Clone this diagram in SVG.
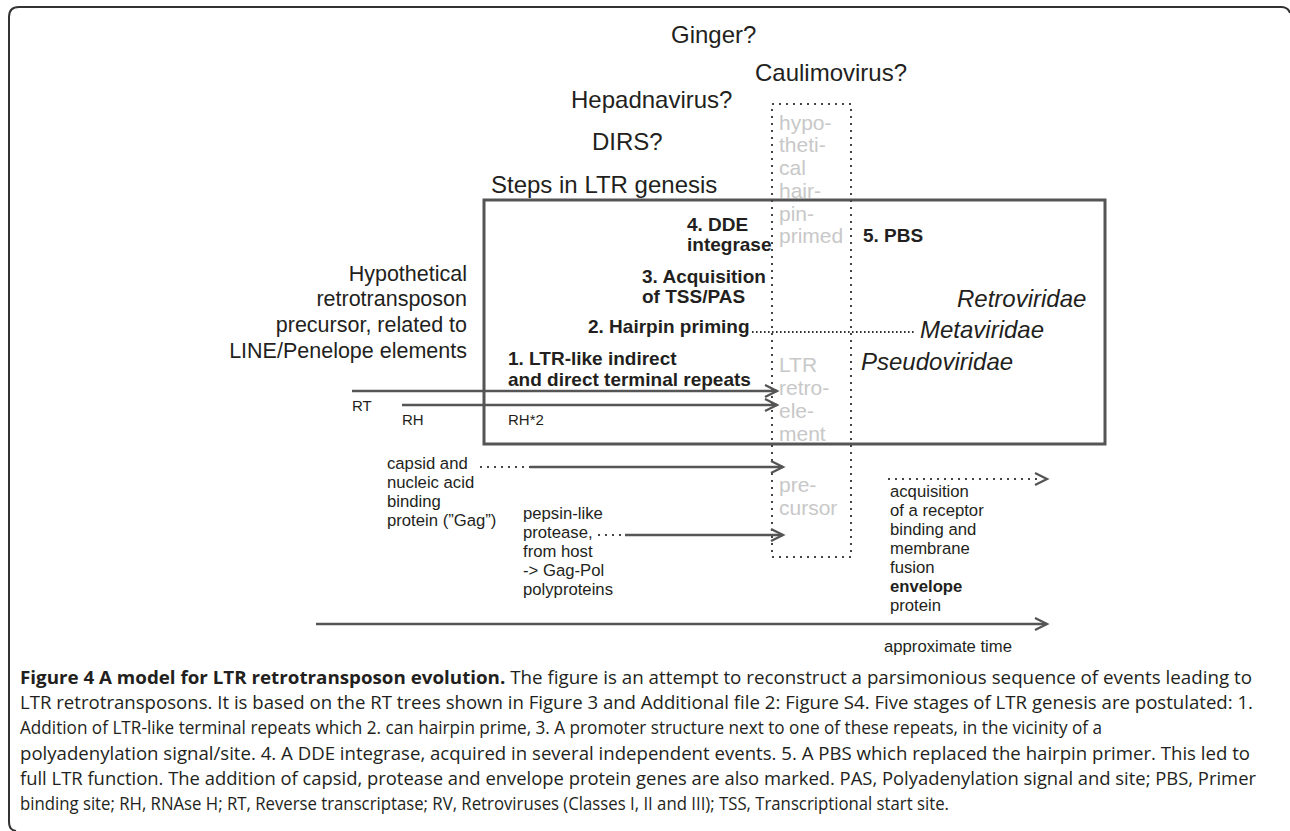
<svg xmlns="http://www.w3.org/2000/svg" width="1290" height="831" viewBox="0 0 1290 831">
<style>
.t{font-family:"Liberation Sans",Arial,Helvetica,sans-serif;fill:#231f20}
.top{font-size:24px}
.big{font-size:21.5px}
.b{font-size:19px;font-weight:bold}
.it{font-size:24px;font-style:italic}
.sm{font-size:16.7px}
.lab{font-size:15px}
.g{font-family:"Liberation Sans",Arial,sans-serif;font-size:21px;fill:#c8c8c8}
.cap{font-family:"Open Sans","Noto Sans",sans-serif;font-size:18.5px;fill:#231f20}
.ln{stroke:#555;stroke-width:2.5;fill:none}
.dot{stroke:#444;stroke-width:2;fill:none;stroke-dasharray:2 5}
.fdot{stroke:#333;stroke-width:2;fill:none;stroke-dasharray:1.6 2.4}
</style>
<defs>
<marker id="ah" markerWidth="16" markerHeight="16" refX="13" refY="7" orient="auto" markerUnits="userSpaceOnUse">
<path d="M1,1 L13,7 L1,13" fill="none" stroke="#555" stroke-width="2.3"/>
</marker>
</defs>
<rect width="1290" height="831" fill="#fff"/>
<path d="M16,831 Q9,830 9,822 L9,17 Q9,7 19,7 L1281,7 Q1288,7 1290,13" fill="none" stroke="#333" stroke-width="2"/>

<g id="top-labels">
<text class="t top" x="671" y="43">Ginger?</text>
<text class="t top" x="755" y="81">Caulimovirus?</text>
<text class="t top" x="571" y="108">Hepadnavirus?</text>
<text class="t top" x="592" y="150">DIRS?</text>
<text class="t top" x="491" y="193">Steps in LTR genesis</text>
</g>

<g id="ltr-box">
<rect x="484" y="200" width="621" height="244" fill="none" stroke="#555" stroke-width="3"/>
</g>

<g id="hairpin-column">
<rect class="dot" x="772" y="104" width="79" height="453"/>
<text class="g" x="779" y="130">hypo-</text>
<text class="g" x="779" y="152">theti-</text>
<text class="g" x="779" y="175">cal</text>
<text class="g" x="779" y="198">hair-</text>
<text class="g" x="779" y="221">pin-</text>
<text class="g" x="779" y="243">primed</text>
<text class="g" x="779" y="372">LTR</text>
<text class="g" x="779" y="395">retro-</text>
<text class="g" x="779" y="418">ele-</text>
<text class="g" x="779" y="441">ment</text>
<text class="g" x="779" y="492">pre-</text>
<text class="g" x="779" y="515">cursor</text>
</g>

<g id="precursor-label">
<text class="t big" text-anchor="end" x="467" y="281">Hypothetical</text>
<text class="t big" text-anchor="end" x="467" y="306">retrotransposon</text>
<text class="t big" text-anchor="end" x="467" y="332">precursor, related to</text>
<text class="t big" text-anchor="end" x="467" y="358">LINE/Penelope elements</text>
</g>

<g id="steps">
<text class="t b" x="687" y="231">4. DDE</text>
<text class="t b" x="687" y="251">integrase</text>
<text class="t b" x="642" y="283">3. Acquisition</text>
<text class="t b" x="642" y="303">of TSS/PAS</text>
<text class="t b" x="588" y="333">2. Hairpin priming</text>
<text class="t b" x="508" y="365">1. LTR-like indirect</text>
<text class="t b" x="508" y="386">and direct terminal repeats</text>
<text class="t b" x="863" y="242">5. PBS</text>
</g>

<g id="families">
<text class="t it" x="957" y="307">Retroviridae</text>
<text class="t it" x="920" y="338">Metaviridae</text>
<text class="t it" x="861" y="370">Pseudoviridae</text>
</g>

<g id="domain-labels">
<text class="t lab" x="352" y="411">RT</text>
<text class="t lab" x="402" y="425">RH</text>
<text class="t lab" x="508" y="425">RH*2</text>
</g>

<g id="gag-label">
<text class="t sm" x="387" y="469">capsid and</text>
<text class="t sm" x="387" y="488">nucleic acid</text>
<text class="t sm" x="387" y="507">binding</text>
<text class="t sm" x="387" y="526">protein (&#8221;Gag&#8221;)</text>
</g>

<g id="protease-label">
<text class="t sm" x="523" y="519">pepsin-like</text>
<text class="t sm" x="523" y="538">protease,</text>
<text class="t sm" x="523" y="557">from host</text>
<text class="t sm" x="523" y="576">-&gt; Gag-Pol</text>
<text class="t sm" x="523" y="595">polyproteins</text>
</g>

<g id="envelope-label">
<text class="t sm" x="890" y="497">acquisition</text>
<text class="t sm" x="890" y="516">of a receptor</text>
<text class="t sm" x="890" y="535">binding and</text>
<text class="t sm" x="890" y="554">membrane</text>
<text class="t sm" x="890" y="573">fusion</text>
<text class="t sm" x="890" y="592" font-weight="bold">envelope</text>
<text class="t sm" x="890" y="611">protein</text>
</g>

<g id="time-label">
<text class="t sm" text-anchor="end" x="1012" y="652">approximate time</text>
</g>

<g id="connectors">
<line class="fdot" x1="752" y1="332" x2="914" y2="332"/>
<line class="ln" x1="352" y1="391" x2="777" y2="391" marker-end="url(#ah)"/>
<line class="ln" x1="402" y1="405" x2="777" y2="405" marker-end="url(#ah)"/>
<line class="dot" x1="480" y1="467" x2="530" y2="467"/>
<line class="ln" x1="530" y1="467" x2="783" y2="467" marker-end="url(#ah)"/>
<line class="dot" x1="598" y1="535" x2="625" y2="535"/>
<line class="ln" x1="625" y1="535" x2="783" y2="535" marker-end="url(#ah)"/>
<line class="dot" x1="888" y1="479" x2="1040" y2="479"/>
<polyline points="1035,473 1047,479 1035,485" fill="none" stroke="#555" stroke-width="2.3"/>
<line class="ln" x1="316" y1="624" x2="1047" y2="624" marker-end="url(#ah)"/>
</g>

<g id="caption">
<text class="cap" x="20" y="684" textLength="1232" lengthAdjust="spacingAndGlyphs"><tspan font-weight="bold">Figure 4 A model for LTR retrotransposon evolution.</tspan> The figure is an attempt to reconstruct a parsimonious sequence of events leading to</text>
<text class="cap" x="20" y="709" textLength="1233" lengthAdjust="spacingAndGlyphs">LTR retrotransposons. It is based on the RT trees shown in Figure 3 and Additional file 2: Figure S4. Five stages of LTR genesis are postulated: 1.</text>
<text class="cap" x="20" y="734" textLength="1082" lengthAdjust="spacingAndGlyphs">Addition of LTR-like terminal repeats which 2. can hairpin prime, 3. A promoter structure next to one of these repeats, in the vicinity of a</text>
<text class="cap" x="20" y="760" textLength="1230" lengthAdjust="spacingAndGlyphs">polyadenylation signal/site. 4. A DDE integrase, acquired in several independent events. 5. A PBS which replaced the hairpin primer. This led to</text>
<text class="cap" x="20" y="785" textLength="1236" lengthAdjust="spacingAndGlyphs">full LTR function. The addition of capsid, protease and envelope protein genes are also marked. PAS, Polyadenylation signal and site; PBS, Primer</text>
<text class="cap" x="20" y="810" textLength="929" lengthAdjust="spacingAndGlyphs">binding site; RH, RNAse H; RT, Reverse transcriptase; RV, Retroviruses (Classes I, II and III); TSS, Transcriptional start site.</text>
</g>
</svg>
